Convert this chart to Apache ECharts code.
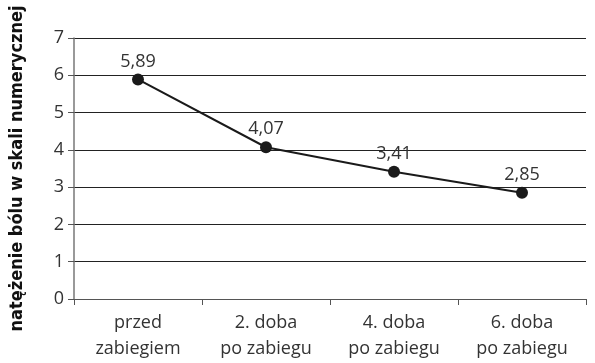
<!DOCTYPE html>
<html><head><meta charset="utf-8">
<script src="https://cdn.jsdelivr.net/npm/echarts@6/dist/echarts.min.js"></script>
<style>html,body{margin:0;padding:0;background:#fff}#c{width:595px;height:363px}</style>
</head><body><div id="c"></div>
<script>
const categories = ['przed\nzabiegiem', '2. doba\npo zabiegu', '4. doba\npo zabiegu', '6. doba\npo zabiegu'];
const values = [5.89, 4.07, 3.41, 2.85];
const yTitle = 'natężenie bólu w skali numerycznej';
const chart = echarts.init(document.getElementById('c'), null, {renderer: 'canvas'});
chart.setOption({
  animation: false,
  grid: {left: 73, right: 9, top: 38, bottom: 64},
  xAxis: {
    type: 'category', data: categories, boundaryGap: true,
    axisLine: {lineStyle: {color: '#555', width: 1}},
    axisTick: {show: true, length: 6, lineStyle: {color: '#555'}},
    axisLabel: {color: '#333', fontFamily: 'Open Sans', fontSize: 18, lineHeight: 26, margin: 11}
  },
  yAxis: {
    type: 'value', min: 0, max: 7, interval: 1,
    name: yTitle, nameLocation: 'middle', nameGap: 48,
    nameTextStyle: {color: '#111', fontFamily: 'DejaVu Sans Condensed', fontWeight: 'bold', fontSize: 18},
    axisLine: {show: true, lineStyle: {color: '#777', width: 1.5}},
    axisTick: {show: true, length: 6, lineStyle: {color: '#555'}},
    axisLabel: {color: '#333', fontFamily: 'Open Sans', fontSize: 18, margin: 10},
    splitLine: {lineStyle: {color: '#222', width: 1}}
  },
  series: [{
    type: 'line', data: values,
    lineStyle: {color: '#1a1a1a', width: 2},
    itemStyle: {color: '#1a1a1a'},
    symbol: 'circle', symbolSize: 12,
    label: {show: true, position: 'top', distance: 3, color: '#333', fontFamily: 'Open Sans', fontSize: 18,
      formatter: p => p.value.toFixed(2).replace('.', ',')}
  }]
});
</script></body></html>
